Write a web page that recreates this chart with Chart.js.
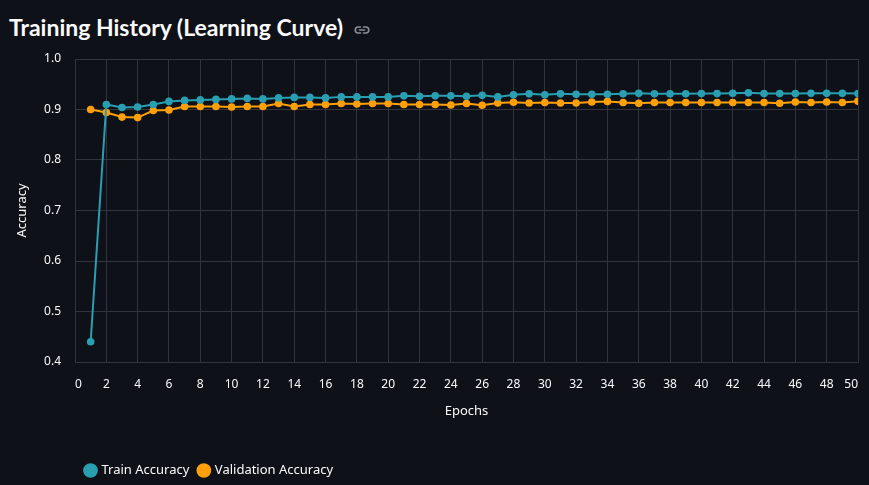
<!DOCTYPE html>
<html>
<head>
<meta charset="utf-8">
<script src="https://cdn.jsdelivr.net/npm/chart.js@4.4.1/dist/chart.umd.min.js"></script>
<style>
    html, body {
        margin: 0;
        padding: 0;
        background: #0e1117;
        width: 869px;
        height: 485px;
        overflow: hidden;
    }
    #title {
        position: absolute;
        left: 9px;
        top: 11px;
        color: #fafafa;
        font-family: Lato, "Noto Sans", sans-serif;
        font-weight: 700;
        font-size: 23px;
        line-height: 32px;
        white-space: nowrap;
    }
    #title svg {
        vertical-align: -3px;
        margin-left: 10px;
    }
    #wrap {
        position: absolute;
        left: 0;
        top: 50px;
        width: 869px;
        height: 435px;
    }
</style>
</head>
<body>
<div id="title">Training History (Learning Curve)<svg width="18" height="18" viewBox="0 0 24 24" fill="none" stroke="#8a8d97" stroke-width="2.2" stroke-linecap="round"><path d="M10 8H7a4 4 0 0 0 0 8h3"/><path d="M14 8h3a4 4 0 0 1 0 8h-3"/><path d="M8.5 12h7"/></svg></div>
<div id="wrap"><canvas id="lineChart"></canvas></div>
<script>
// 数据
const epochs = [1, 2, 3, 4, 5, 6, 7, 8, 9, 10,
    11, 12, 13, 14, 15, 16, 17, 18, 19, 20,
    21, 22, 23, 24, 25, 26, 27, 28, 29, 30,
    31, 32, 33, 34, 35, 36, 37, 38, 39, 40,
    41, 42, 43, 44, 45, 46, 47, 48, 49, 50];
const trainAcc = [0.440, 0.910, 0.904, 0.905, 0.910, 0.916, 0.918, 0.919, 0.920, 0.921,
    0.922, 0.921, 0.923, 0.924, 0.924, 0.923, 0.925, 0.925, 0.925, 0.925,
    0.927, 0.926, 0.927, 0.927, 0.926, 0.928, 0.925, 0.929, 0.931, 0.929,
    0.931, 0.930, 0.930, 0.930, 0.931, 0.932, 0.931, 0.931, 0.931, 0.9315,
    0.9315, 0.932, 0.933, 0.9315, 0.9315, 0.9315, 0.932, 0.932, 0.932, 0.9315];
const valAcc = [0.900, 0.894, 0.885, 0.884, 0.898, 0.899, 0.906, 0.906, 0.906, 0.905,
    0.906, 0.906, 0.912, 0.906, 0.910, 0.910, 0.912, 0.911, 0.912, 0.912,
    0.910, 0.910, 0.910, 0.909, 0.912, 0.9085, 0.913, 0.9145, 0.913, 0.914,
    0.913, 0.913, 0.915, 0.916, 0.914, 0.9125, 0.914, 0.914, 0.914, 0.914,
    0.914, 0.914, 0.914, 0.914, 0.9125, 0.915, 0.914, 0.915, 0.914, 0.9165];
const seriesNames = ['Train Accuracy', 'Validation Accuracy'];
const seriesColors = ['#2a9fb2', '#ffa00a'];

const textColor = '#fafafa';
const gridColor = '#32343d';
const fontFamily = '"Noto Sans", sans-serif';

function toPoints(values) {
    return values.map((v, i) => ({x: epochs[i], y: v}));
}

// 图例位置微调，与参考图对齐
const legendShift = {
    id: 'legendShift',
    afterLayout(chart) {
        const lg = chart.legend;
        lg.left += 76;
        lg.right += 76;
        lg.top += 2;
        lg.bottom += 2;
    }
};

// 去掉刻度标签带来的额外内边距
function noPad(scale) {
    scale.paddingLeft = 0;
    scale.paddingRight = 0;
    scale.paddingTop = 0;
    scale.paddingBottom = 0;
}

new Chart(document.getElementById('lineChart').getContext('2d'), {
    type: 'line',
    data: {
        datasets: [trainAcc, valAcc].map((vals, i) => ({
            label: seriesNames[i],
            data: toPoints(vals),
            borderColor: seriesColors[i],
            backgroundColor: seriesColors[i],
            borderWidth: 2,
            pointRadius: 2.8,
            pointHoverRadius: 4,
            tension: 0
        }))
    },
    options: {
        responsive: true,
        maintainAspectRatio: false,
        animation: false,
        layout: {
            padding: {top: 9, right: 11, left: 0, bottom: 0}
        },
        plugins: {
            legend: {
                position: 'bottom',
                align: 'start',
                labels: {
                    usePointStyle: true,
                    pointStyle: 'circle',
                    boxWidth: 9,
                    boxHeight: 9,
                    padding: 10,
                    color: textColor,
                    font: {family: fontFamily, size: 13}
                }
            },
            tooltip: {enabled: false}
        },
        scales: {
            x: {
                type: 'linear',
                min: 0,
                max: 50,
                afterFit(scale) {
                    scale.height = 90;
                    noPad(scale);
                },
                grid: {color: gridColor, drawTicks: false},
                border: {color: gridColor},
                ticks: {
                    stepSize: 2,
                    padding: 15,
                    align: 'inner',
                    color: textColor,
                    maxRotation: 0,
                    font: {family: fontFamily, size: 12}
                },
                title: {
                    display: true,
                    text: 'Epochs',
                    color: textColor,
                    padding: {top: 0, bottom: 33},
                    font: {family: fontFamily, size: 13}
                }
            },
            y: {
                min: 0.4,
                max: 1.0,
                afterFit(scale) {
                    scale.width = 75;
                    noPad(scale);
                },
                grid: {color: gridColor, drawTicks: false},
                border: {color: gridColor},
                ticks: {
                    stepSize: 0.1,
                    padding: 14,
                    color: textColor,
                    font: {family: fontFamily, size: 12},
                    callback: (v) => v.toFixed(1)
                },
                title: {
                    display: true,
                    text: 'Accuracy',
                    color: textColor,
                    padding: {top: 14, bottom: 0},
                    font: {family: fontFamily, size: 13}
                }
            }
        }
    },
    plugins: [legendShift]
});
</script>
</body>
</html>
